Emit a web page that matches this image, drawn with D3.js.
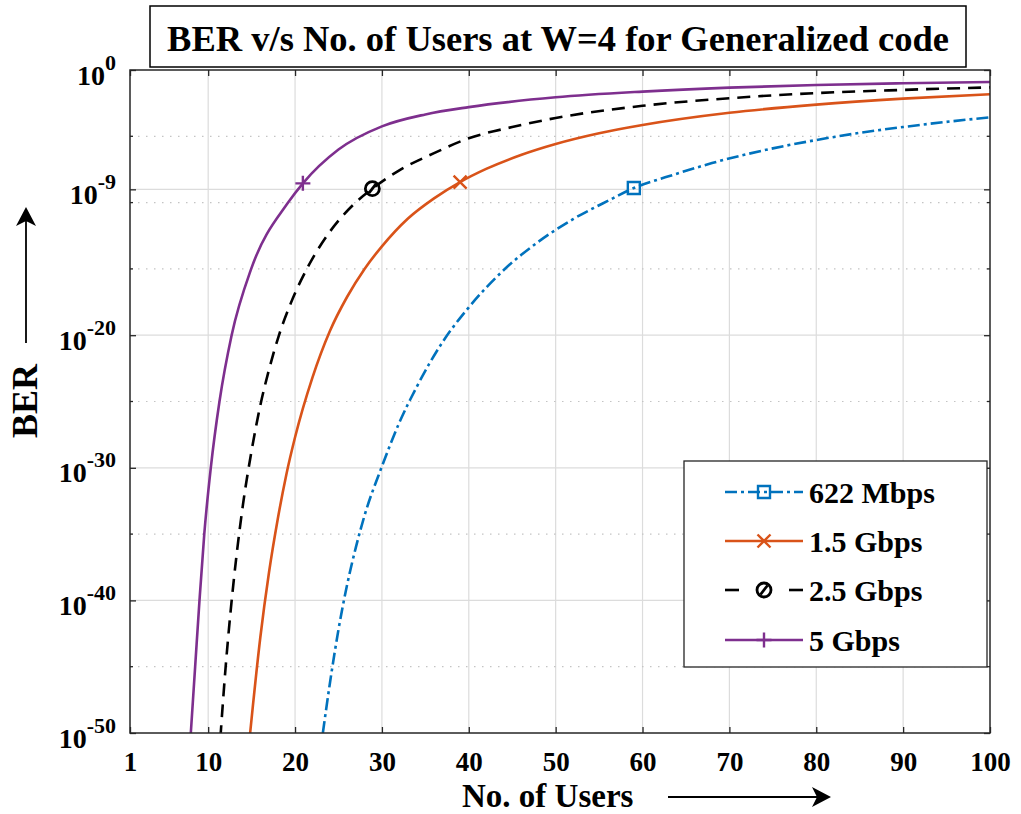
<!DOCTYPE html>
<html>
<head>
<meta charset="utf-8">
<script src="https://cdn.jsdelivr.net/npm/d3@7"></script>
<style>
  body { margin: 0; background: #fff; }
  text { font-family: "Liberation Serif", "Times New Roman", serif; font-weight: bold; fill: #000; }
</style>
</head>
<body>
<svg id="chart" width="1021" height="814"></svg>
<script>
// ---- data: BER exponents (log10 BER) against number of users ----
const seriesNames = ["622 Mbps", "1.5 Gbps", "2.5 Gbps", "5 Gbps"];

const users622 = [23.2, 24, 25, 26, 27, 28, 30, 32, 34, 37, 40, 44, 48, 52, 56, 59, 63, 68, 75, 80, 85, 90, 95, 100];
const exp622   = [-50, -46.3, -42.2, -38.8, -36.0, -33.6, -29.9, -26.6, -23.9, -20.5, -17.9, -15.1, -12.96, -11.25, -9.87, -8.9, -8.02, -7.02, -5.91, -5.28, -4.74, -4.3, -3.91, -3.57];

const users15 = [14.8, 15, 16, 17, 18, 19, 20, 22, 24, 26, 28, 30, 33, 36, 39, 42, 46, 50, 55, 60, 70, 80, 90, 100];
const exp15   = [-50.2, -48.9, -42.8, -37.9, -33.9, -30.5, -27.7, -23.2, -19.7, -17.1, -15.0, -13.3, -11.2, -9.68, -8.45, -7.46, -6.41, -5.58, -4.77, -4.15, -3.23, -2.61, -2.16, -1.83];

const users25 = [11.4, 12, 12.6, 13.3, 14, 15, 16, 17, 18.1, 19.5, 21.6, 24, 26.8, 28.9, 32, 36, 40, 45, 50, 60, 70, 80, 90, 100];
const exp25   = [-50.4, -45.1, -40.7, -36.4, -32.8, -28.7, -25.3, -22.6, -20.1, -17.6, -14.7, -12.2, -10.1, -8.95, -7.57, -6.27, -5.15, -4.3, -3.62, -2.7, -2.13, -1.74, -1.5, -1.31];

const users5 = [8.0, 8.5, 9.0, 9.55, 10.3, 11.3, 12.7, 14.95, 19.2, 20.9, 25, 30, 35, 40, 50, 60, 70, 80, 90, 100];
const exp5   = [-50, -45, -40, -35, -30, -25, -20, -15, -10, -8.55, -6.0, -4.25, -3.35, -2.8, -2.06, -1.63, -1.33, -1.13, -1.0, -0.9];

// user count at which each curve carries its marker
const markerUsers = [59, 39, 28.9, 20.9];

// axis ticks
const xTicks = [1, 10, 20, 30, 40, 50, 60, 70, 80, 90, 100];
const yMajorExp = [0, -9, -20, -30, -40, -50];
const yMinorExp = [-5, -10, -15, -25, -35, -45];

// ---- layout ----
const svg = d3.select("#chart");
const P = { left: 130, right: 990, top: 70, bottom: 733 };
const x = d3.scaleLinear().domain([1, 100]).range([P.left, P.right]);
const y = d3.scaleLog().domain([1e-50, 1]).range([P.bottom, P.top]);
const pow = e => Math.pow(10, e);

const series = [
  { name: seriesNames[0], users: users622, exps: exp622, color: "#0072BD", dash: "12,4,3,4", marker: "square" },
  { name: seriesNames[1], users: users15,  exps: exp15,  color: "#D95319", dash: null,       marker: "x" },
  { name: seriesNames[2], users: users25,  exps: exp25,  color: "#000000", dash: "13,8",     marker: "circle" },
  { name: seriesNames[3], users: users5,   exps: exp5,   color: "#7E2F8E", dash: null,       marker: "plus" }
];
series.forEach((s, i) => {
  s.points = s.users.map((u, j) => ({ u, ber: pow(s.exps[j]) }));
  s.mark = s.points.find(p => Math.abs(p.u - markerUsers[i]) < 1e-9);
});

// plot background
svg.append("rect").attr("x", P.left).attr("y", P.top)
  .attr("width", P.right - P.left).attr("height", P.bottom - P.top).attr("fill", "#fff");

// grid
const grid = svg.append("g");
grid.selectAll("line.vx").data(xTicks.slice(1, -1)).join("line")
  .attr("x1", d => x(d)).attr("x2", d => x(d)).attr("y1", P.top).attr("y2", P.bottom)
  .attr("stroke", "#dcdcdc").attr("stroke-width", 1.2);
grid.selectAll("line.hy").data(yMajorExp.slice(1, -1)).join("line")
  .attr("x1", P.left).attr("x2", P.right).attr("y1", d => y(pow(d))).attr("y2", d => y(pow(d)))
  .attr("stroke", "#dcdcdc").attr("stroke-width", 1.2);
grid.selectAll("line.mn").data(yMinorExp).join("line")
  .attr("x1", P.left).attr("x2", P.right).attr("y1", d => y(pow(d))).attr("y2", d => y(pow(d)))
  .attr("stroke", "#c4c4c4").attr("stroke-width", 1.2).attr("stroke-dasharray", "1.5,6.5");

// axes with inward ticks
const xAxis = d3.axisBottom(x).tickValues(xTicks).tickSize(-6).tickSizeOuter(0).tickFormat(d3.format("d"));
const gx = svg.append("g").attr("transform", `translate(0,${P.bottom})`).call(xAxis);
gx.select(".domain").remove();
gx.selectAll(".tick line").attr("stroke", "#262626").attr("stroke-width", 1.3);
gx.selectAll(".tick text").attr("y", 38).attr("dy", 0).attr("font-size", 27)
  .attr("font-family", null).style("font-family", "'Liberation Serif', serif").style("font-weight", "bold");

const xTop = d3.axisTop(x).tickValues(xTicks).tickSize(-6).tickSizeOuter(0).tickFormat("");
const gxt = svg.append("g").attr("transform", `translate(0,${P.top})`).call(xTop);
gxt.select(".domain").remove();
gxt.selectAll(".tick line").attr("stroke", "#262626").attr("stroke-width", 1.3);

const yAxis = d3.axisLeft(y).tickValues(yMajorExp.map(pow)).tickSize(-6).tickSizeOuter(0);
const gy = svg.append("g").attr("transform", `translate(${P.left},0)`).call(yAxis);
gy.select(".domain").remove();
gy.selectAll(".tick line").attr("stroke", "#262626").attr("stroke-width", 1.3);
gy.selectAll(".tick text").each(function (d) {
  const t = d3.select(this);
  const e = Math.round(Math.log10(d));
  t.text(null).attr("x", -14).attr("y", 14).attr("dy", 0).attr("text-anchor", "end")
    .attr("font-family", null).style("font-family", "'Liberation Serif', serif").style("font-weight", "bold");
  t.append("tspan").attr("font-size", 28).text("10");
  t.append("tspan").attr("font-size", 22).attr("dy", -15).text(String(e));
});

const yRight = d3.axisRight(y).tickValues(yMajorExp.map(pow)).tickSize(-6).tickSizeOuter(0).tickFormat("");
const gyr = svg.append("g").attr("transform", `translate(${P.right},0)`).call(yRight);
gyr.select(".domain").remove();
gyr.selectAll(".tick line").attr("stroke", "#262626").attr("stroke-width", 1.3);

// minor ticks on both sides
const minorTicks = svg.append("g").attr("stroke", "#262626").attr("stroke-width", 1.3);
yMinorExp.forEach(e => {
  minorTicks.append("line").attr("x1", P.left).attr("x2", P.left + 3).attr("y1", y(pow(e))).attr("y2", y(pow(e)));
  minorTicks.append("line").attr("x1", P.right).attr("x2", P.right - 3).attr("y1", y(pow(e))).attr("y2", y(pow(e)));
});

// curves
svg.append("clipPath").attr("id", "plotClip").append("rect")
  .attr("x", P.left).attr("y", P.top).attr("width", P.right - P.left).attr("height", P.bottom - P.top);
const line = d3.line().x(d => x(d.u)).y(d => y(d.ber)).curve(d3.curveMonotoneX);
const curves = svg.append("g").attr("clip-path", "url(#plotClip)");
series.forEach(s => {
  curves.append("path").datum(s.points).attr("d", line)
    .attr("fill", "none").attr("stroke", s.color).attr("stroke-width", 2.6)
    .attr("stroke-dasharray", s.dash);
});

// marker glyphs
function drawMarker(g, type, cx, cy, color) {
  if (type === "circle") {
    g.append("circle").attr("cx", cx).attr("cy", cy).attr("r", 7)
      .attr("fill", "none").attr("stroke", color).attr("stroke-width", 2.8);
    g.append("line").attr("x1", cx - 3.5).attr("y1", cy + 4.5).attr("x2", cx + 3.5).attr("y2", cy - 4.5)
      .attr("stroke", color).attr("stroke-width", 2.8);
    return;
  }
  const s = type === "square" ? 6 : 6.5;
  let d;
  if (type === "square") d = `M${cx - s},${cy - s}h${2 * s}v${2 * s}h${-2 * s}Z`;
  if (type === "x") d = `M${cx - s},${cy - s}L${cx + s},${cy + s}M${cx - s},${cy + s}L${cx + s},${cy - s}`;
  if (type === "plus") d = `M${cx - 7.5},${cy}H${cx + 7.5}M${cx},${cy - 7.5}V${cy + 7.5}`;
  g.append("path").attr("d", d).attr("fill", "none").attr("stroke", color).attr("stroke-width", 2.4);
}
const marks = svg.append("g");
series.forEach(s => drawMarker(marks, s.marker, x(s.mark.u), y(s.mark.ber), s.color));

// axes box
svg.append("rect").attr("x", P.left).attr("y", P.top)
  .attr("width", P.right - P.left).attr("height", P.bottom - P.top)
  .attr("fill", "none").attr("stroke", "#262626").attr("stroke-width", 1.5);

// title box
svg.append("rect").attr("x", 150).attr("y", 6).attr("width", 816).attr("height", 61)
  .attr("fill", "#fff").attr("stroke", "#000").attr("stroke-width", 1.5);
svg.append("text").attr("x", 558).attr("y", 51).attr("text-anchor", "middle")
  .attr("font-size", 36.5).text("BER v/s No. of Users at W=4 for Generalized code");

// axis labels with arrows
svg.append("text").attr("x", 462).attr("y", 806.5).attr("font-size", 33).text("No. of Users");
svg.append("line").attr("x1", 668).attr("x2", 820).attr("y1", 797).attr("y2", 797)
  .attr("stroke", "#000").attr("stroke-width", 1.8);
svg.append("path").attr("d", "M831,797 L812,787 L817,797 L812,807 Z").attr("fill", "#000");

svg.append("text").attr("transform", "translate(37,401) rotate(-90)").attr("text-anchor", "middle")
  .attr("font-size", 36).text("BER");
svg.append("line").attr("x1", 26).attr("x2", 26).attr("y1", 343).attr("y2", 218)
  .attr("stroke", "#000").attr("stroke-width", 1.8);
svg.append("path").attr("d", "M26,207 L16,226 L26,221 L36,226 Z").attr("fill", "#000");

// legend
const lg = svg.append("g");
lg.append("rect").attr("x", 684).attr("y", 461).attr("width", 303).attr("height", 206)
  .attr("fill", "#fff").attr("stroke", "#262626").attr("stroke-width", 1.3);
const rowY = [492, 541, 590, 640];
series.forEach((s, i) => {
  const ry = rowY[i];
  if (s.marker === "circle") {
    lg.append("line").attr("x1", 725).attr("x2", 739).attr("y1", ry).attr("y2", ry)
      .attr("stroke", s.color).attr("stroke-width", 2.6);
    lg.append("line").attr("x1", 789).attr("x2", 803).attr("y1", ry).attr("y2", ry)
      .attr("stroke", s.color).attr("stroke-width", 2.6);
  } else {
    lg.append("line").attr("x1", 725).attr("x2", 803).attr("y1", ry).attr("y2", ry)
      .attr("stroke", s.color).attr("stroke-width", 2.6).attr("stroke-dasharray", s.dash);
  }
  drawMarker(lg, s.marker, 764, ry, s.color);
  lg.append("text").attr("x", 809).attr("y", ry + 11).attr("font-size", 30).text(s.name);
});
</script>
</body>
</html>
